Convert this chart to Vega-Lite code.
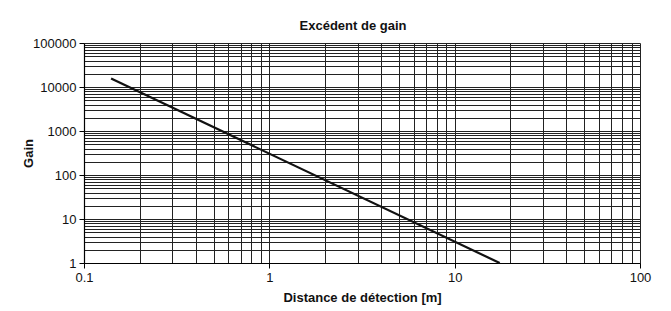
{
  "$schema": "https://vega.github.io/schema/vega-lite/v6.json",
  "width": 556,
  "height": 220,
  "autosize": {"type": "none"},
  "padding": {"left": 84, "top": 43, "right": 31, "bottom": 48},
  "background": "white",
  "title": {"text": "Excédent de gain", "font": "Liberation Sans", "fontSize": 13, "fontWeight": "bold", "color": "#111", "offset": 4, "dx": -9},
  "data": {"values": [
    {"distance": 0.14, "gain": 15600},
    {"distance": 17.5, "gain": 1}
  ]},
  "mark": {"type": "line", "color": "#111", "strokeWidth": 2.2},
  "encoding": {
    "x": {
      "field": "distance", "type": "quantitative",
      "scale": {"type": "log", "domain": [0.1, 100], "nice": false},
      "axis": {
        "title": "Distance de détection [m]",
        "values": [0.1,0.2,0.3,0.4,0.5,0.6,0.7,0.8,0.9,1,2,3,4,5,6,7,8,9,10,20,30,40,50,60,70,80,90,100],
        "labelExpr": "abs(log(datum.value)/LN10 - round(log(datum.value)/LN10)) < 0.001 ? format(datum.value, '~g') : ''",
        "tickOpacity": {"condition": {"test": "abs(log(datum.value)/LN10 - round(log(datum.value)/LN10)) < 0.001", "value": 1}, "value": 0},
        "labelPadding": 3,
        "titlePadding": 7
      }
    },
    "y": {
      "field": "gain", "type": "quantitative",
      "scale": {"type": "log", "domain": [1, 100000], "nice": false},
      "axis": {
        "title": "Gain",
        "values": [1,2,3,4,5,6,7,8,9,10,20,30,40,50,60,70,80,90,100,200,300,400,500,600,700,800,900,1000,2000,3000,4000,5000,6000,7000,8000,9000,10000,20000,30000,40000,50000,60000,70000,80000,90000,100000],
        "labelExpr": "abs(log(datum.value)/LN10 - round(log(datum.value)/LN10)) < 0.001 ? format(datum.value, '~g') : ''",
        "tickOpacity": {"condition": {"test": "abs(log(datum.value)/LN10 - round(log(datum.value)/LN10)) < 0.001", "value": 1}, "value": 0},
        "labelPadding": 3,
        "titlePadding": -3
      }
    }
  },
  "config": {
    "view": {"stroke": null},
    "axis": {
      "grid": true,
      "gridColor": "#222",
      "gridOpacity": 1,
      "gridWidth": 1,
      "domainColor": "#000",
      "domainWidth": 1.2,
      "tickColor": "#000",
      "tickSize": 5,
      "labelFont": "Liberation Sans",
      "labelFontSize": 13,
      "labelColor": "#111",
      "labelOverlap": false,
      "labelFlush": false,
      "titleFont": "Liberation Sans",
      "titleFontSize": 13,
      "titleFontWeight": "bold",
      "titleColor": "#111"
    }
  }
}
